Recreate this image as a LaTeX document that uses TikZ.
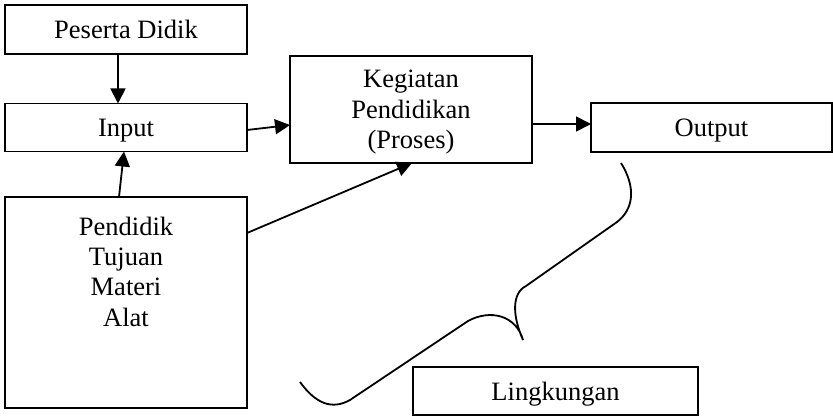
\documentclass[tikz,border=0pt]{standalone}
\usepackage{fontspec}
\setmainfont{Liberation Serif}
\usepackage {tikz}
\usetikzlibrary {positioning,arrows.meta}

\begin{document}
\begin{tikzpicture}[x=1pt,y=-1pt,line width=1.8pt,-{Triangle[length=15pt,width=15pt]}]
  \tikzstyle{box}=[rectangle ,draw ,inner sep=0pt ,outer sep=0pt ,minimum width =242pt ,
align=center ,text depth=0pt ,font=\fontsize{26.5}{30.5}\selectfont]
  \useasboundingbox (0,0) rectangle (833,417);
  \node[box, minimum height=49pt] (B_peserta) at (126,29.5)  {Peserta Didik};
  \node[box, minimum height=48pt] (B_input) at (126,127.5)  {Input};
  \node[box, minimum height=211pt,
    label={[anchor=north,inner sep=0pt,yshift=-19pt,align=center,
    font=\fontsize{26.5}{30.3}\selectfont]north:Pendidik\\Tujuan\\Materi\\Alat}]
    (B_pendidik) at (126,302.5) {};
  \node[box, minimum height=107pt] (B_proses) at (411,109.5) {Kegiatan\\Pendidikan\\(Proses)};
  \node[box, minimum height=49pt, minimum width=241pt] (B_output) at (711.5,127.5) {Output};
  \node[box, minimum height=48pt, minimum width=285pt] (B_lingkungan) at (555.5,391) {Lingkungan};

  \draw ([xshift=-8pt]B_peserta.south) -- ([xshift=-8pt]B_input.north);
  \draw ([xshift=-7pt]B_pendidik.north) -- ([xshift=-2pt]B_input.south);
  \draw ([yshift=-2.5pt]B_input.east) -- ([yshift=-15.5pt]B_proses.west);
  \draw ([yshift=-36pt]B_pendidik.north east) -- ([xshift=1pt]B_proses.south);
  \draw ([yshift=-14.5pt]B_proses.east) -- ([yshift=3.5pt]B_output.west);

  % kurung kurawal lingkungan
  \draw[-] (300,382) .. controls (316,404) and (332,410) .. (350,400) -- (468,321)
    .. controls (490,309) and (516,315) .. (523,340)
    .. controls (512,315) and (512,293) .. (526,286) -- (617,222)
    .. controls (634,209) and (636,187) .. (621,163);
\end{tikzpicture}
\end{document}
